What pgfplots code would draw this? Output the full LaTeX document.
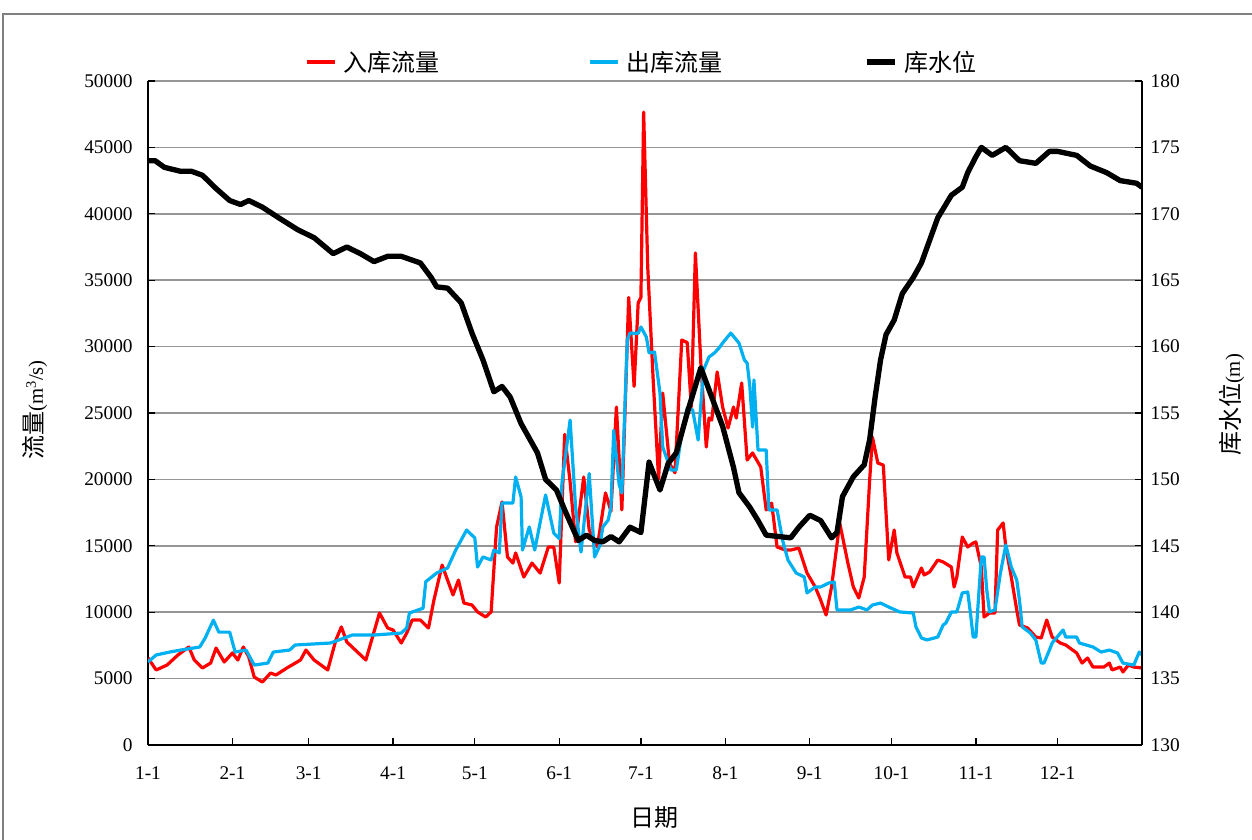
\documentclass[border=0pt]{standalone}
\usepackage{fontspec}
\setmainfont{Liberation Serif}
\newfontfamily\cjk{Noto Sans CJK SC}
\usepackage{pgfplots}
\usepackage{pgfplotstable}
\pgfplotsset{compat=1.18}

\definecolor{inred}{RGB}{255,0,0}
\definecolor{outblue}{RGB}{0,176,240}
\definecolor{gridgray}{RGB}{150,150,150}
\definecolor{framegray}{RGB}{128,128,128}

% day of year, m3/s
\pgfplotstableread{
day q
0 6550
3 5650
7 6020
11 6780
15 7380
17 6400
20 5800
23 6170
25 7300
28 6250
31 6930
33 6400
35 7380
37 6630
39 5120
42 4740
45 5420
47 5270
51 5800
56 6400
58 7150
61 6400
66 5650
69 7910
71 8890
73 7760
80 6400
85 9940
88 8810
90 8660
93 7680
95 8430
97 9410
100 9410
103 8810
105 10920
108 13550
110 12420
112 11300
114 12420
116 10690
119 10540
121 10020
124 9640
126 10020
128 16420
130 18300
132 14160
134 13700
135 14460
138 12650
141 13700
144 12950
147 14910
149 14910
151 12200
153 23400
155 19800
157 15300
160 20180
162 16200
165 14910
168 18980
170 17600
172 25450
174 17700
176.5 33700
178.5 27000
180 33300
181 33700
182 47660
183.5 36000
185.5 27500
187.5 20000
189 26500
191.5 21200
193.5 20500
196 30500
198 30300
199.5 25450
201 37050
203 28760
205 22440
206 24620
207 24470
209 28090
211 25450
213 23870
215 25450
216 24620
218 27260
220 21460
222 21990
225 20930
227 17700
229 18220
231 14910
234 14680
236 14680
239 14830
242 12950
245 11900
247 10920
249 9790
251 11900
254 16720
257 13700
259 11900
261 11070
263 12650
265 19960
266 23190
268 21230
270 21080
272 13930
274 16190
275 14460
278 12650
280 12650
281 11900
284 13330
285 12800
287 13030
290 13930
292 13780
295 13400
296 11900
297 12650
299 15660
301 14910
303 15210
304 15290
306 13400
307 9640
309 9940
311 9940
312 16190
314 16720
315 14910
317 12650
319 10170
320 9040
323 8810
326 8130
328 8060
330 9410
332 8130
335 7680
337 7530
341 6930
343 6170
345 6550
347 5870
351 5870
353 6170
354 5650
357 5870
358 5500
360 6020
362 5870
365 5800
}\inflow

\pgfplotstableread{
day q
0 6250
3 6780
8 7000
12 7150
19 7380
21 8060
24 9400
26 8500
30 8500
32 7000
36 7150
39 6020
44 6170
46 7000
52 7150
54 7530
67 7680
75 8280
83 8280
93 8430
95 8810
96 9940
101 10300
102 12300
106 12950
110 13330
113 14680
117 16190
120 15590
121 13400
123 14160
126 13930
127 14680
129 14460
130 18220
134 18220
135 20180
137 18680
137.5 14680
140 16420
142 14680
146 18830
149 15960
151 15550
152 19730
155 24470
157 17920
159 14530
162 20440
164 14160
166 15060
167 16420
169 16940
170 17920
171 23700
173 19600
174 18980
176 30500
177 31020
180 31000
181 31480
183 30720
184 29520
186 29590
188 26500
189 22440
192 20710
194 20710
196 23490
198 25380
200 25230
202 22970
204 28240
206 29220
208 29520
210 29970
211 30270
214 31020
217 30270
219 28990
220 28760
221 27000
222 23940
222.5 27490
224 22210
227 22210
228 17700
231 17700
233 15440
235 13930
238 12950
241 12650
242 11450
245 11900
247 11900
250 12200
252 12270
253 10170
258 10170
261 10390
264 10170
266 10540
269 10690
272 10390
276 10020
281 9940
282 8890
284 8060
286 7910
290 8130
292 9040
293 9190
295 10020
297 10020
299 11450
301 11520
302 9940
303 8130
304 8130
306 14160
307 14160
308 11670
309 10020
311 10170
313 12950
315 15060
317 13400
319 12420
320 10920
321 8890
324 8430
326 7910
328 6170
329 6170
331 7150
332 7680
336 8660
337 8130
341 8130
342 7680
347 7380
350 7000
353 7150
356 6930
358 6170
362 6020
364 7000
365 6780
}\outflow

% day of year, m
\pgfplotstableread{
day z
0 174.0
2.6 174.0
6 173.5
12 173.2
16 173.2
20 172.9
25 171.9
30 171.0
34 170.7
37 171.0
42 170.5
48 169.7
55 168.8
61 168.2
68 167.0
73 167.5
78 167.0
83 166.4
88 166.8
93 166.8
100 166.3
104 165.2
106 164.5
110 164.4
115 163.3
119 161.0
123 159.0
127 156.6
130 157.0
133 156.2
137 154.2
143 152.0
146 150.0
150 149.2
153 147.7
158 145.4
161 145.8
164 145.4
167 145.3
170 145.7
173 145.3
177 146.4
181 146.0
184 151.3
188 149.2
191 151.2
194 152.0
198 155.0
203 158.4
207 156.2
211 154.0
215 150.9
217 149.0
221 147.9
224 146.9
227 145.8
236 145.6
239 146.4
243 147.3
247 146.9
251 145.6
253 146.0
255 148.7
259 150.2
263 151.1
265 153.0
267 156.2
269 159.0
271 160.9
274 162.0
277 164.0
281 165.2
284 166.3
287 168.0
290 169.7
295 171.4
299 172.0
301 173.1
304 174.3
306 175.0
310 174.4
315 175.0
320 174.0
326 173.8
331 174.7
334 174.7
341 174.4
346 173.6
352 173.1
357 172.5
363 172.3
365 172.0
}\level

\newcommand{\numfont}{\fontsize{14.5}{16}\selectfont}
\newcommand{\labnum}{\fontsize{15.5}{17}\selectfont}
\newcommand{\cjkfont}{\cjk\fontsize{18}{20}\selectfont}

\begin{document}
\begin{tikzpicture}
\useasboundingbox (-111pt,-70.5pt) rectangle (828pt,558.75pt);
\draw[framegray, line width=1.1pt] (-108.75pt,-80pt) -- (-108.75pt,548.25pt) -- (840pt,548.25pt);

\pgfplotsset{
  common/.style={
    at={(0pt,0pt)}, anchor=south west,
    scale only axis, width=745.5pt, height=498pt,
    xmin=0, xmax=365,
    tick align=inside,
    major tick length=5pt,
    tick style={black, line width=1pt},
    axis line style={black, line width=1.4pt},
    /pgf/number format/assume math mode=true,
    /pgf/number format/1000 sep={},
    ticklabel style={font=\numfont},
    scaled y ticks=false,
  }
}

\begin{axis}[common,
  ymin=0, ymax=50000,
  axis x line*=bottom, axis y line*=left,
  xtick={0,31,59,90,120,151,181,212,243,273,304,334},
  xticklabels={1-1,2-1,3-1,4-1,5-1,6-1,7-1,8-1,9-1,10-1,11-1,12-1},
  xticklabel style={yshift=-13pt},
  ytick={0,5000,...,50000},
  yticklabel style={xshift=-8pt},
  ymajorgrids, grid style={gridgray, line width=1.3pt},
  xlabel={\cjkfont 日期},
  xlabel style={at={(axis description cs:0.510,-0.110)}, anchor=center},
  ylabel={{\cjkfont 流量}{\labnum (m\textsuperscript{3}/s)}},
  ylabel style={at={(axis description cs:-0.1137,0.5045)}, anchor=center},
  legend columns=3,
  legend cell align=left,
  legend style={at={(axis description cs:0.158,1.0286)}, anchor=west,
    draw=none, fill=none, inner sep=0pt, font=\cjkfont,
    nodes={inner xsep=0pt, inner ysep=1pt},
    /tikz/every odd column/.append style={column sep=5pt}},
  legend image code/.code={\draw[#1] (0pt,0pt) -- (21pt,0pt);},
]
\addplot[inred, line width=2.4pt, line join=round] table[x=day, y=q] {\inflow};
\addlegendentry{\makebox[184pt][l]{入库流量}}
\addplot[outblue, line width=2.4pt, line join=round] table[x=day, y=q] {\outflow};
\addlegendentry{\makebox[178.75pt][l]{出库流量}}
\addlegendimage{black, line width=4pt}
\addlegendentry{库水位}
\end{axis}

\begin{axis}[common,
  ymin=130, ymax=180,
  axis x line=none, axis y line*=right,
  ytick={130,135,...,180},
  yticklabel style={xshift=3pt},
  ylabel={{\cjkfont 库水位}{\labnum (m)}},
  ylabel style={at={(axis description cs:1.0905,0.512)}, anchor=center, rotate=0},
]
\addplot[black, line width=4pt, line join=round] table[x=day, y=z] {\level};
\end{axis}
\end{tikzpicture}
\end{document}
